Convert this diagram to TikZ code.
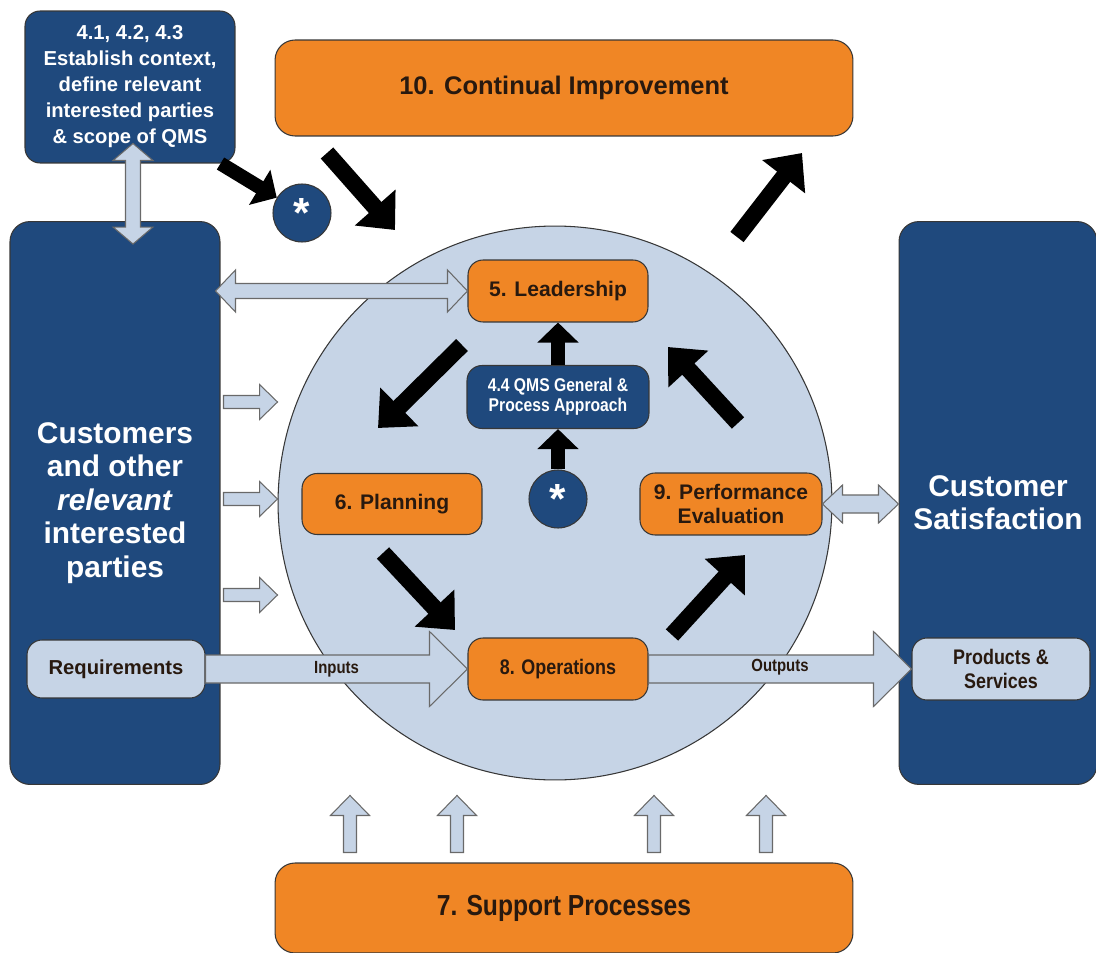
\documentclass[tikz,border=0pt]{standalone}
\usepackage{fontspec}
\setmainfont{Liberation Sans}
\newfontfamily\narrowsf[FakeStretch=0.85]{Liberation Sans}
\usetikzlibrary{arrows.meta,positioning,calc}

\definecolor{qmsblue}{RGB}{31,73,125}
\definecolor{qmsorange}{RGB}{240,134,37}
\definecolor{qmslight}{RGB}{198,212,230}
\definecolor{qmsedge}{RGB}{55,55,55}
\definecolor{qmsgray}{RGB}{105,105,105}
\definecolor{qmsink}{RGB}{40,25,15}

% outlined block arrow: from, to, half shaft, half head, head length
\newcommand{\hollowarrow}[5]{%
	\coordinate (hb) at ($(#2)!#5!(#1)$);
	\draw[hollow] ($(#1)!#3!-90:(#2)$) -- ($(hb)!#3!90:(#1)$) -- ($(hb)!#4!90:(#1)$) -- (#2)
	-- ($(hb)!#4!-90:(#1)$) -- ($(hb)!#3!-90:(#1)$) -- ($(#1)!#3!90:(#2)$) -- cycle;}

% same, with a head at both ends
\newcommand{\hollowdouble}[5]{%
	\coordinate (hb1) at ($(#1)!#5!(#2)$);
	\coordinate (hb2) at ($(#2)!#5!(#1)$);
	\draw[hollow] (#1) -- ($(hb1)!#4!-90:(#2)$) -- ($(hb1)!#3!-90:(#2)$) -- ($(hb2)!#3!90:(#1)$)
	-- ($(hb2)!#4!90:(#1)$) -- (#2) -- ($(hb2)!#4!-90:(#1)$) -- ($(hb2)!#3!-90:(#1)$)
	-- ($(hb1)!#3!90:(#2)$) -- ($(hb1)!#4!90:(#2)$) -- cycle;}

\begin{document}
\begin{tikzpicture}[
		x=0.02cm,y=-0.02cm,
		every node/.style={font=\bfseries, align=center, inner sep=0pt},
		bluebox/.style={draw=qmsedge, fill=qmsblue, text=white, rounded corners=0.3cm, line width=0.6pt},
		orangebox/.style={draw=qmsedge, fill=qmsorange, text=qmsink, rounded corners=0.3cm, line width=0.6pt},
		lightbox/.style={draw=qmsedge, fill=qmslight, text=qmsink, rounded corners=0.3cm, line width=0.6pt},
		starnode/.style={circle, draw=qmsedge, fill=qmsblue, text=white, minimum size=1.16cm, line width=0.6pt,
			font=\bfseries\fontsize{24}{24}\selectfont},
		hollow/.style={draw=qmsgray, fill=qmslight, line width=0.6pt},
		flow/.style={line width=9.5pt, -{Triangle[length=0.6cm,width=1.05cm]}},
		flowsmall/.style={line width=8pt, -{Triangle[length=0.4cm,width=0.8cm]}}
		]
		\useasboundingbox (0,0) rectangle (1096,953);
		
		% =========================
		% central process circle
		% =========================
		\node[circle, draw=qmsedge, fill=qmslight, minimum size=11.08cm, line width=0.6pt] (circ) at (555,503) {};
		
		% =========================
		% outer boxes
		% =========================
		\node[bluebox, minimum width=4.2cm, minimum height=3.04cm,
		font=\bfseries\fontsize{11.5}{14.8}\selectfont] (ctx) at (130,87)
		{4.1, 4.2, 4.3\\Establish context,\\define relevant\\interested parties\\\& scope of QMS};
		
		\node[orangebox, rounded corners=0.4cm, minimum width=11.56cm, minimum height=1.92cm,
		font=\bfseries\fontsize{14.5}{17}\selectfont] (ci) at (564,88) {10. Continual Improvement};
		
		\node[bluebox, rounded corners=0.4cm, minimum width=4.2cm, minimum height=11.26cm,
		font=\bfseries\fontsize{17}{19}\selectfont] (cust) at (115,503)
		{Customers\\and other\\\textit{relevant}\\interested\\parties};
		
		\node[bluebox, rounded corners=0.4cm, minimum width=3.96cm, minimum height=11.26cm,
		font=\bfseries\fontsize{17}{19}\selectfont] (csat) at (998,503) {Customer\\Satisfaction};
		
		\node[orangebox, rounded corners=0.4cm, minimum width=11.56cm, minimum height=1.8cm,
		font=\narrowsf\bfseries\fontsize{16.5}{19}\selectfont] (sup) at (564,908) {7. Support Processes};
		
		% =========================
		% clauses inside the circle
		% =========================
		\node[orangebox, minimum width=3.6cm, minimum height=1.24cm,
		font=\bfseries\fontsize{12}{14}\selectfont] (lead) at (558,291) {5. Leadership};
		\node[bluebox, minimum width=3.64cm, minimum height=1.26cm,
		font=\narrowsf\bfseries\fontsize{10.5}{11.5}\selectfont] (qms) at (558,397) {4.4 QMS General \&\\Process Approach};
		\node[starnode] (star2) at (558,499) {*};
		\node[orangebox, minimum width=3.6cm, minimum height=1.22cm,
		font=\bfseries\fontsize{12}{14}\selectfont] (plan) at (392,504) {6. Planning};
		\node[orangebox, minimum width=3.64cm, minimum height=1.24cm,
		font=\bfseries\fontsize{12}{13.7}\selectfont] (perf) at (731,504) {9. Performance\\Evaluation};
		\node[orangebox, minimum width=3.6cm, minimum height=1.24cm,
		font=\narrowsf\bfseries\fontsize{12}{14}\selectfont] (ops) at (558,669) {8. Operations};
		
		\node[lightbox, minimum width=3.56cm, minimum height=1.16cm,
		font=\bfseries\fontsize{11.5}{14}\selectfont] (req) at (116,669) {Requirements};
		\node[lightbox, minimum width=3.56cm, minimum height=1.24cm,
		font=\narrowsf\bfseries\fontsize{12}{13.7}\selectfont] (prod) at (1001,669) {Products \&\\Services};
		
		\node[starnode] (star1) at (302,213) {*};
		
		% =========================
		% PDCA flow (black arrows)
		% =========================
		\coordinate (fb-s) at (327,153);  \coordinate (fb-e) at (395,230);
		\coordinate (ci-s) at (737,237);  \coordinate (ci-e) at (802,153);
		\coordinate (lp-s) at (462,345);  \coordinate (lp-e) at (378,428);
		\coordinate (pl-s) at (383,553);  \coordinate (pl-e) at (455,630);
		\coordinate (op-s) at (672,635);  \coordinate (op-e) at (745,555);
		\coordinate (pe-s) at (738,423);  \coordinate (pe-e) at (668,347);
		
		\draw[flow] (fb-s) -- (fb-e);
		\draw[flow] (ci-s) -- (ci-e);
		\draw[flow] (lp-s) -- (lp-e);
		\draw[flow] (pl-s) -- (pl-e);
		\draw[flow] (op-s) -- (op-e);
		\draw[flow] (pe-s) -- (pe-e);
		
		\draw[flowsmall] ([xshift=-0.3cm]ctx.south east) -- (star1);
		\draw[flowsmall] (qms) -- (lead);
		\draw[flowsmall] (star2) -- (qms);
		
		% =========================
		% inputs / outputs (block arrows)
		% =========================
		\coordinate (ctx-a) at ($(ctx.south)+(3,-20)$);
		\coordinate (ctx-b) at ($(ctx.south |- cust.north)+(3,23)$);
		\hollowdouble{ctx-a}{ctx-b}{0.15cm}{0.4cm}{0.34cm}
		
		\coordinate (lead-a) at ($(cust.east |- lead.west)+(-5,0)$);
		\hollowdouble{lead-a}{lead.west}{0.15cm}{0.42cm}{0.4cm}
		
		\coordinate (perf-b) at (csat.west |- perf.east);
		\hollowdouble{perf.east}{perf-b}{0.18cm}{0.38cm}{0.4cm}
		
		\foreach \y [count=\i] in {402,499,595} {
			\coordinate (in\i-a) at ($(cust.east |- 0,\y)+(3,0)$);
			\coordinate (in\i-b) at (circ.west |- 0,\y);
			\hollowarrow{in\i-a}{in\i-b}{0.13cm}{0.35cm}{0.36cm}
		}
		
		\hollowarrow{req.east}{ops.west}{0.28cm}{0.75cm}{0.76cm}
		\hollowarrow{ops.east}{prod.west}{0.28cm}{0.75cm}{0.76cm}
		\node[font=\narrowsf\bfseries\fontsize{10}{12}\selectfont, text=qmsink] (in-lbl)
		at ($(req.east)!0.5!(ops.west)$) {Inputs};
		\node[font=\narrowsf\bfseries\fontsize{10}{12}\selectfont, text=qmsink] (out-lbl)
		at ($(ops.east)!0.5!(prod.west)+(0,-2)$) {Outputs};
		
		% support feeding the processes
		\foreach \x [count=\i] in {350,457,654,766} {
			\coordinate (sp\i-a) at ($(sup.north -| \x,0)+(0,-10)$);
			\coordinate (sp\i-b) at ($(circ.south -| \x,0)+(0,15)$);
			\hollowarrow{sp\i-a}{sp\i-b}{0.13cm}{0.39cm}{0.4cm}
		}
		
	\end{tikzpicture}
\end{document}
